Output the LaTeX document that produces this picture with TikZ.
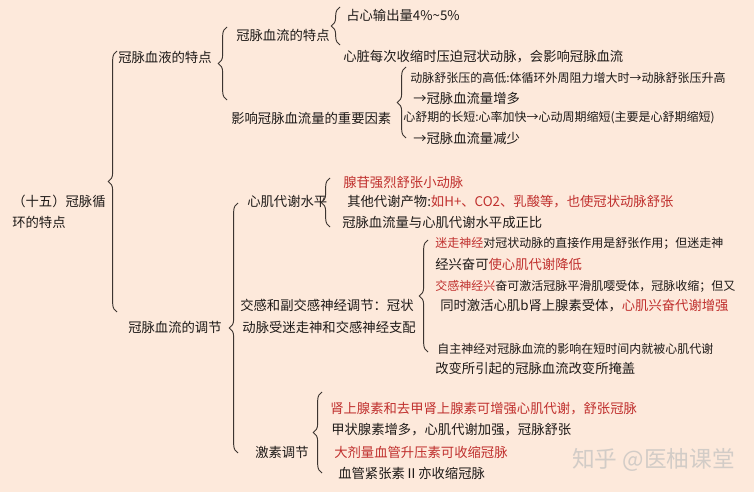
\documentclass[tikz,border=0pt]{standalone}
\usepackage{fontspec}
\setmainfont{Noto Sans CJK SC}
\usepackage{tikz}
\usetikzlibrary{decorations.pathreplacing}
\definecolor{bgcol}{HTML}{FDE9DB}
\definecolor{hl}{HTML}{C0302E}
\definecolor{ink}{HTML}{1E1A18}
\definecolor{linecol}{HTML}{3C3430}
\definecolor{wmcol}{HTML}{D2CCC7}
\begin{document}
\begin{tikzpicture}[x=0.75pt,y=-0.75pt,
        item/.style={anchor=west,inner sep=0pt,text=ink,font=\fontsize{10}{12}\selectfont},
        tight/.style={item,font=\fontsize{9}{11}\selectfont},
        hot/.style={item,text=hl},
        bracket/.style={decorate,decoration={brace,amplitude=6.5pt},draw=linecol,line width=0.7pt}]

    \path[use as bounding box,fill=bgcol] (0,0) rectangle (754,492);

    \node[item,align=left,font=\fontsize{10}{15.75}\selectfont] (root) at (12,212) {（十五）冠脉循\\环的特点};

    \node[item] (blood) at (118,57) {冠脉血液的特点};
    \node[item] (reg) at (128,327) {冠脉血流的调节};

    \node[item] (flow) at (236,35) {冠脉血流的特点};
    \node[item] (factor) at (231,118) {影响冠脉血流量的重要因素};
    \node[item] (meta) at (247,201) {心肌代谢水平};
    \node[item,align=left,font=\fontsize{10}{16.5}\selectfont] (nerve) at (240,316) {交感和副交感神经调节：冠状\\\,动脉受迷走神和交感神经支配};
    \node[item] (horm) at (255,452) {激素调节};

    \node[item] (f1) at (346,15) {占心输出量4\%\textasciitilde5\%};
    \node[item] (f2) at (343,57) {心脏每次收缩时压迫冠状动脉，会影响冠脉血流};

    \node[tight] (p1) at (410,78) {动脉舒张压的高低:体循环外周阻力增大时→动脉舒张压升高};
    \node[item] (p2) at (413,98) {→冠脉血流量增多};
    \node[tight] (p3) at (403,118) {心舒期的长短:心率加快→心动周期缩短(主要是心舒期缩短)};
    \node[item] (p4) at (413,138) {→冠脉血流量减少};

    \node[hot] (m1) at (343,182) {腺苷强烈舒张小动脉};
    \node[item] (m2) at (347,202) {其他代谢产物:\textcolor{hl}{如H+、CO2、乳酸等，也使冠状动脉舒张}};
    \node[item] (m3) at (342,222) {冠脉血流量与心肌代谢水平成正比};

    \node[tight] (n1) at (435,243) {\textcolor{hl}{迷走神经}对冠状动脉的直接作用是舒张作用；但迷走神};
    \node[item] (n2) at (435,264) {经兴奋可\textcolor{hl}{使心肌代谢降低}};
    \node[tight] (n3) at (435,286) {\textcolor{hl}{交感神经兴}奋可激活冠脉平滑肌嘤受体，冠脉收缩；但又};
    \node[item] (n4) at (440,306) {同时激活心肌b肾上腺素受体，\textcolor{hl}{心肌兴奋代谢增强}};
    \node[tight] (n5) at (437,349) {自主神经对冠脉血流的影响在短时间内就被心肌代谢};
    \node[item] (n6) at (435,368) {改变所引起的冠脉血流改变所掩盖};

    \node[hot] (h1) at (330,409) {肾上腺素和去甲肾上腺素可增强心肌代谢，舒张冠脉};
    \node[item] (h2) at (331,430) {甲状腺素增多，心肌代谢加强，冠脉舒张};
    \node[hot] (h3) at (334,452) {大剂量血管升压素可收缩冠脉};
    \node[item] (h4) at (338,473) {血管紧张素Ⅱ亦收缩冠脉};

    \node[item,text=wmcol,font=\fontsize{17}{20}\selectfont] (wm) at (572,460) {知乎 @医柚课堂};

    % brace ends
    \coordinate (b1t) at (117,51);  \coordinate (b1b) at (117,312);
    \coordinate (b2t) at (227,27);  \coordinate (b2b) at (227,100);
    \coordinate (b3t) at (340,7);   \coordinate (b3b) at (340,45);
    \coordinate (b4t) at (406,67);  \coordinate (b4b) at (406,138);
    \coordinate (b5t) at (238,203); \coordinate (b5b) at (238,453);
    \coordinate (b6t) at (330,178); \coordinate (b6b) at (330,227);
    \coordinate (b7t) at (428,240); \coordinate (b7b) at (428,352);
    \coordinate (b8t) at (322,392); \coordinate (b8b) at (322,473);

    \foreach \b in {1,...,8}
        \draw[bracket] (b\b b) -- (b\b t);

\end{tikzpicture}
\end{document}
